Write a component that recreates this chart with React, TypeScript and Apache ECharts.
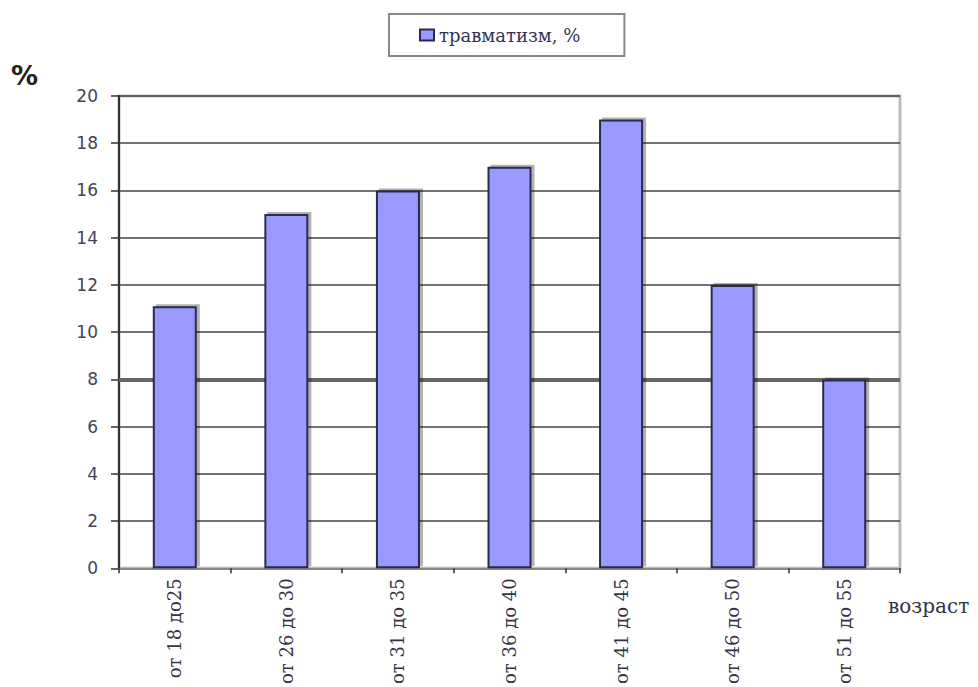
import React, { useEffect, useRef } from "react";
import * as echarts from "echarts";

const categories = ["от 18 до25", "от 26 до 30", "от 31 до 35", "от 36 до 40", "от 41 до 45", "от 46 до 50", "от 51 до 55"];
const injuryValues = [11.1, 15, 16, 17, 19, 12, 8];
const seriesName = "травматизм, %";
const referenceLevel = 8;

export default function App() {
  const ref = useRef<HTMLDivElement>(null);
  useEffect(() => {
    if (!ref.current) return;
    const chart = echarts.init(ref.current, undefined, { renderer: "svg" });
    chart.setOption({
      animation: false,
      backgroundColor: "#ffffff",
      grid: { left: 119, right: 78, top: 96, bottom: 116, show: true, borderColor: "#bbbbbb", borderWidth: 3, backgroundColor: "transparent" },
      legend: {
        top: 14,
        left: 389,
        data: [seriesName],
        padding: [12, 44, 12, 30],
        borderColor: "#888888",
        borderWidth: 2,
        itemWidth: 14,
        itemHeight: 11,
        itemGap: 6,
        textStyle: { fontFamily: "DejaVu Serif, serif", fontSize: 18, color: "#333355" },
        icon: "rect",
      },
      xAxis: {
        type: "category",
        data: categories,
        boundaryGap: true,
        axisLine: { show: true, lineStyle: { color: "#888888", width: 2 } },
        axisTick: { show: true, alignWithLabel: false, length: 5, lineStyle: { color: "#333333", width: 1.5 } },
        axisLabel: { rotate: 90, margin: 10, fontFamily: "DejaVu Serif, serif", fontSize: 18, color: "#333344", interval: 0 },
        splitLine: { show: false },
      },
      yAxis: {
        type: "value",
        min: 0,
        max: 20,
        interval: 2,
        axisLine: { show: true, lineStyle: { color: "#333333", width: 2 } },
        axisTick: { show: true, length: 8, lineStyle: { color: "#333333", width: 1.5 } },
        axisLabel: { margin: 21, fontFamily: "DejaVu Sans, sans-serif", fontSize: 17, color: "#444455" },
        splitLine: { show: true, lineStyle: { color: "#444444", width: 1.5 } },
      },
      graphic: [
        { type: "text", left: 11, top: 62, style: { text: "%", font: "bold 27px DejaVu Sans, sans-serif", fill: "#222222" } },
        { type: "text", left: 888, top: 596, style: { text: "возраст", font: "20px DejaVu Serif, serif", fill: "#333344" } },
      ],
      series: [
        {
          type: "line",
          data: [],
          z: 1,
          silent: true,
          markLine: {
            silent: true,
            z: 1,
            symbol: "none",
            label: { show: false },
            lineStyle: { color: "#666666", width: 4, type: "solid" },
            data: [{ yAxis: referenceLevel }],
          },
        },
        {
          name: seriesName,
          type: "bar",
          data: injuryValues,
          barWidth: 44,
          z: 3,
          itemStyle: {
            color: "#9999ff",
            borderColor: "#2a2a48",
            borderWidth: 2,
            shadowColor: "rgba(0,0,0,0.3)",
            shadowOffsetX: 3,
            shadowOffsetY: -2,
            shadowBlur: 0,
          },
        },
      ],
    });
    return () => chart.dispose();
  }, []);
  return <div ref={ref} style={{ width: 978, height: 687, position: "absolute", left: 0, top: 0 }} />;
}
